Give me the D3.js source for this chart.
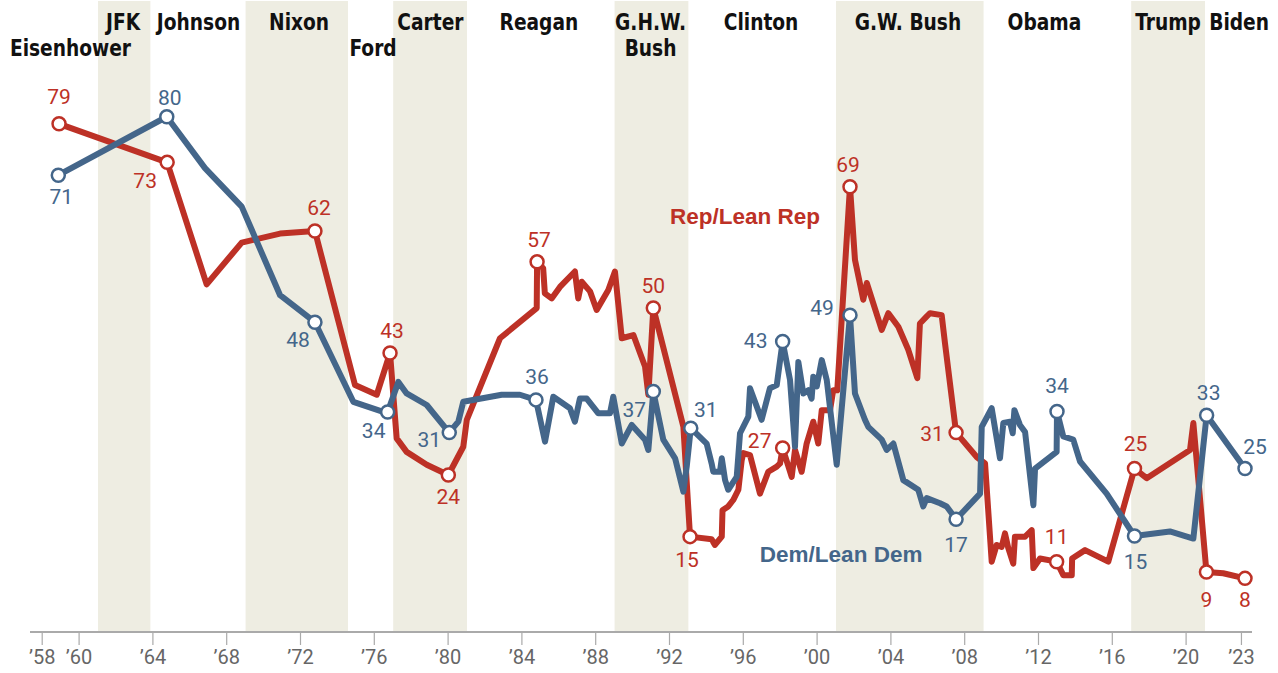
<!DOCTYPE html>
<html>
<head>
<meta charset="utf-8">
<script src="https://cdn.jsdelivr.net/npm/d3@7"></script>
<style>
html,body{margin:0;padding:0;background:#fff;}
svg{display:block;}
</style>
</head>
<body>
<svg id="chart" width="1278" height="673"></svg>
<script>
// ---------------- DATA ----------------
const repDates = [1958.94,1964.8,1966.94,1968.84,1970.92,1972.81,1974.98,1976.16,1976.88,1977.24,1977.78,1978.87,1980.04,1980.85,1981.04,1982.84,1984.83,1984.85,1985.18,1985.27,1985.64,1986.09,1986.9,1987.08,1987.27,1987.72,1988.08,1988.71,1989.07,1989.44,1990.07,1990.7,1990.88,1991.15,1992.78,1993.14,1994.31,1994.49,1994.86,1994.9,1995.21,1995.48,1995.76,1995.94,1996.03,1996.39,1996.93,1997.38,1997.84,1998.02,1998.16,1998.65,1998.83,1999.19,1999.46,1999.82,2000.09,2000.28,2000.73,2000.9,2001.12,2001.81,2002.08,2002.53,2002.72,2003.53,2003.89,2004.43,2004.97,2005.46,2005.6,2005.97,2006.15,2006.78,2006.96,2007.56,2008.68,2009.13,2009.49,2009.76,2010.03,2010.21,2010.39,2010.66,2010.75,2011.3,2011.66,2011.75,2012.11,2013.01,2013.37,2013.83,2013.85,2014.55,2015.81,2017.23,2017.89,2020.24,2020.42,2021.13,2022.04,2023.22];
const repValues = [79,73,54.0,60.5,61.9,62.3,38.3,36.8,43.3,30.0,27.9,25.9,24.3,28.7,32.9,45.6,50.3,57.5,56.5,52.6,51.8,53.6,56.0,51.8,54.4,52.9,50.0,53.1,56.0,45.6,46.1,41.2,36.8,50.3,31.8,14.7,14.3,13.4,14.7,18.8,19.4,20.4,22.0,26.6,27.7,27.4,21.4,24.8,25.6,26.1,28.5,24.0,28.2,24.8,29.2,32.6,29.2,34.4,34.4,37.5,37.5,69.2,57.8,51.6,54.2,46.9,49.5,47.4,43.8,39.4,47.9,49.0,49.5,49.2,44.8,30.9,27.1,26.1,10.8,13.4,13.1,15.2,12.9,10.5,14.7,14.7,15.7,9.8,11.3,10.8,8.7,8.7,11.3,12.6,10.8,25.3,23.8,28.2,32.4,9.2,9.0,8.2];

const demDates = [1958.9,1964.78,1966.85,1968.84,1970.92,1972.81,1974.89,1976.43,1976.75,1977.33,1977.78,1978.87,1980.09,1980.58,1980.85,1982.93,1983.92,1984.79,1985.28,1985.73,1986.63,1986.9,1987.17,1987.54,1988.17,1988.8,1988.98,1989.44,1989.98,1990.7,1990.88,1991.15,1991.69,1992.33,1992.78,1992.96,1993.18,1994.04,1994.31,1994.4,1994.76,1994.86,1995.04,1995.21,1995.67,1995.85,1996.3,1996.39,1997.02,1997.47,1997.84,1998.16,1998.56,1998.83,1999.01,1999.28,1999.55,1999.73,1999.82,2000.01,2000.28,2000.55,2001.09,2001.81,2002.08,2002.62,2002.8,2003.53,2003.8,2004.16,2004.7,2005.51,2005.78,2005.97,2006.69,2007.05,2007.56,2008.86,2008.95,2009.49,2009.94,2010.12,2010.48,2010.63,2010.72,2011.02,2011.3,2011.75,2011.84,2013.01,2013.03,2013.37,2013.91,2014.28,2015.72,2017.23,2019.15,2020.42,2021.14,2023.22];
const demValues = [71,80.1,72.1,66.1,52.3,48.1,35.7,34.2,34.1,38.8,37.0,35.2,30.9,32.6,35.7,36.8,36.8,36.0,29.5,36.5,34.7,32.6,36.2,36.2,33.9,33.9,36.5,29.2,32.1,29.8,28.2,37.3,29.8,26.9,21.7,25.6,31.6,29.2,26.1,24.8,24.8,26.9,23.5,22.0,24.0,30.8,33.4,37.8,32.9,37.8,38.3,45.1,39.1,28.7,41.9,37.0,37.5,36.2,39.6,38.1,42.2,39.1,25.9,49.2,37.0,32.9,31.8,29.8,28.2,29.2,23.5,22.0,19.4,20.7,19.9,19.4,17.4,21.4,31.8,34.7,26.9,32.4,32.6,30.8,34.4,32.1,31.0,19.6,25.3,27.9,34.2,30.3,29.8,26.4,21.4,14.8,15.5,14.4,33.6,25.3];

// labelled points (dates) and the text shown next to them
const repMarkDates = [1958.94,1964.8,1972.81,1976.88,1980.04,1984.85,1991.15,1993.14,1998.16,2001.81,2007.56,2013.01,2017.23,2021.13,2023.22];
const repMarkText  = ["79","73","62","43","24","57","50","15","27","69","31","11","25","9","8"];
const demMarkDates = [1958.9,1964.78,1972.81,1976.75,1980.09,1984.79,1991.15,1993.18,1998.16,2001.81,2007.56,2013.03,2017.23,2021.14,2023.22];
const demMarkText  = ["71","80","48","34","31","36","37","31","43","49","17","34","15","33","25"];

// presidencies
const presNames  = ["Eisenhower","JFK","Johnson","Nixon","Ford","Carter","Reagan","G.H.W.|Bush","Clinton","G.W. Bush","Obama","Trump","Biden"];
const presStart  = [1953.05,1961.05,1963.89,1969.05,1974.6,1977.05,1981.05,1989.05,1993.05,2001.05,2009.05,2017.05,2021.05];
const presEnd    = [1961.05,1963.89,1969.05,1974.6,1977.05,1981.05,1989.05,1993.05,2001.05,2009.05,2017.05,2021.05,2024.8];
const presShaded = [false,true,false,true,false,true,false,true,false,true,false,true,false];

const tickYears  = [1958,1960,1964,1968,1972,1976,1980,1984,1988,1992,1996,2000,2004,2008,2012,2016,2020,2023];
const tickLabels = ["’58","’60","’64","’68","’72","’76","’80","’84","’88","’92","’96","’00","’04","’08","’12","’16","’20","’23"];

// ---------------- LAYOUT ----------------
const RED = "#bd3126", BLUE = "#44668a", SHADE = "#eeede2";
const svg = d3.select("#chart");
const x = d3.scaleLinear().domain([1958, 2023]).range([41.7, 1240.95]);
const y = d3.scaleLinear().domain([0, 80]).range([631, 117.4]);
const axisY = 632;

// label placement (layout only)
const presLabelYear = [1959.56,1962.41,1966.5,1971.95,1975.96,1979.07,1984.95,1991.0,1996.99,2004.95,2012.35,2019.05,2022.9];
const presLabelRow  = [2,1,1,1,2,1,1,1,1,1,1,1,1];
const repNudge = [[0,-27],[-22,19],[4,-23],[2,-22],[0,22],[2,-22],[0,-22],[-3,23],[-23,-7],[-2,-22],[-24,1],[0,-25],[1,-25],[0,28],[0,22]];
const demNudge = [[3,22],[3,-19],[-17,18],[-14,19],[-20,7],[1,-23],[-19,18],[15,-18],[-27,0],[-28,-7],[0,26],[0,-25],[1,26],[2,-22],[10,-22]];

// shaded bands
const presIdx = d3.range(presNames.length);
svg.append("g").selectAll("rect")
  .data(presIdx.filter(i => presShaded[i]))
  .join("rect")
  .attr("x", i => x(presStart[i]))
  .attr("width", i => x(presEnd[i]) - x(presStart[i]))
  .attr("y", 1)
  .attr("height", axisY - 1)
  .attr("fill", SHADE);

// president labels
const presG = svg.append("g")
  .attr("font-family", "'Liberation Sans Narrow','DejaVu Sans Condensed',sans-serif")
  .attr("font-weight", "bold")
  .attr("font-size", 23)
  .attr("fill", "#111");
presIdx.forEach(i => {
  const lines = presNames[i].split("|");
  lines.forEach((ln, k) => {
    const row = presLabelRow[i] + k;
    presG.append("text")
      .attr("transform", `translate(${x(presLabelYear[i])},${row === 1 ? 30 : 56}) scale(0.9,1)`)
      .attr("text-anchor", "middle")
      .text(ln);
  });
});

// axis
const xAxis = d3.axisBottom(x)
  .tickValues(tickYears)
  .tickFormat((d, i) => tickLabels[i])
  .tickSize(13)
  .tickPadding(5);
const axG = svg.append("g").attr("transform", `translate(0,${axisY})`).call(xAxis);
axG.select(".domain").remove();
axG.append("line").attr("x1", 30).attr("x2", 1252).attr("y1", 0).attr("y2", 0)
  .attr("stroke", "#aaaaaa").attr("stroke-width", 2);
axG.selectAll(".tick line").attr("stroke", "#aaaaaa").attr("stroke-width", 1.2);
axG.selectAll(".tick text")
  .attr("font-family", "Roboto, 'Liberation Sans', sans-serif")
  .attr("font-size", 20)
  .attr("fill", "#666");

// lines
const repData = repDates.map((d, i) => ({date: d, value: repValues[i]}));
const demData = demDates.map((d, i) => ({date: d, value: demValues[i]}));
const line = d3.line().x(d => x(d.date)).y(d => y(d.value));

svg.append("path").datum(repData)
  .attr("d", line).attr("fill", "none").attr("stroke", RED)
  .attr("stroke-width", 6).attr("stroke-linejoin", "round").attr("stroke-linecap", "round");
svg.append("path").datum(demData)
  .attr("d", line).attr("fill", "none").attr("stroke", BLUE)
  .attr("stroke-width", 6).attr("stroke-linejoin", "round").attr("stroke-linecap", "round");

// markers + value labels
function marks(data, dates, texts, nudges, color) {
  const pts = dates.map((d, i) => {
    const p = data.find(q => q.date === d);
    return {date: d, value: p.value, text: texts[i], n: nudges[i]};
  });
  const g = svg.append("g");
  g.selectAll("circle").data(pts).join("circle")
    .attr("cx", d => x(d.date)).attr("cy", d => y(d.value))
    .attr("r", 6.5).attr("fill", "#fff").attr("stroke", color).attr("stroke-width", 2.5);
  g.selectAll("text").data(pts).join("text")
    .attr("x", d => x(d.date) + d.n[0]).attr("y", d => y(d.value) + d.n[1])
    .attr("text-anchor", "middle").attr("dominant-baseline", "central")
    .attr("font-family", "Roboto, 'Liberation Sans', sans-serif")
    .attr("font-size", 21).attr("fill", color)
    .text(d => d.text);
}
marks(repData, repMarkDates, repMarkText, repNudge, RED);
marks(demData, demMarkDates, demMarkText, demNudge, BLUE);

// series labels
svg.append("text").attr("x", x(1996.12)).attr("y", 224)
  .attr("text-anchor", "middle")
  .attr("font-family", "'Liberation Sans', Arial, sans-serif").attr("font-weight", "bold")
  .attr("font-size", 22.5).attr("fill", RED).text("Rep/Lean Rep");
svg.append("text").attr("x", x(2001.33)).attr("y", 562)
  .attr("text-anchor", "middle")
  .attr("font-family", "'Liberation Sans', Arial, sans-serif").attr("font-weight", "bold")
  .attr("font-size", 22.5).attr("fill", BLUE).text("Dem/Lean Dem");
</script>
</body>
</html>
